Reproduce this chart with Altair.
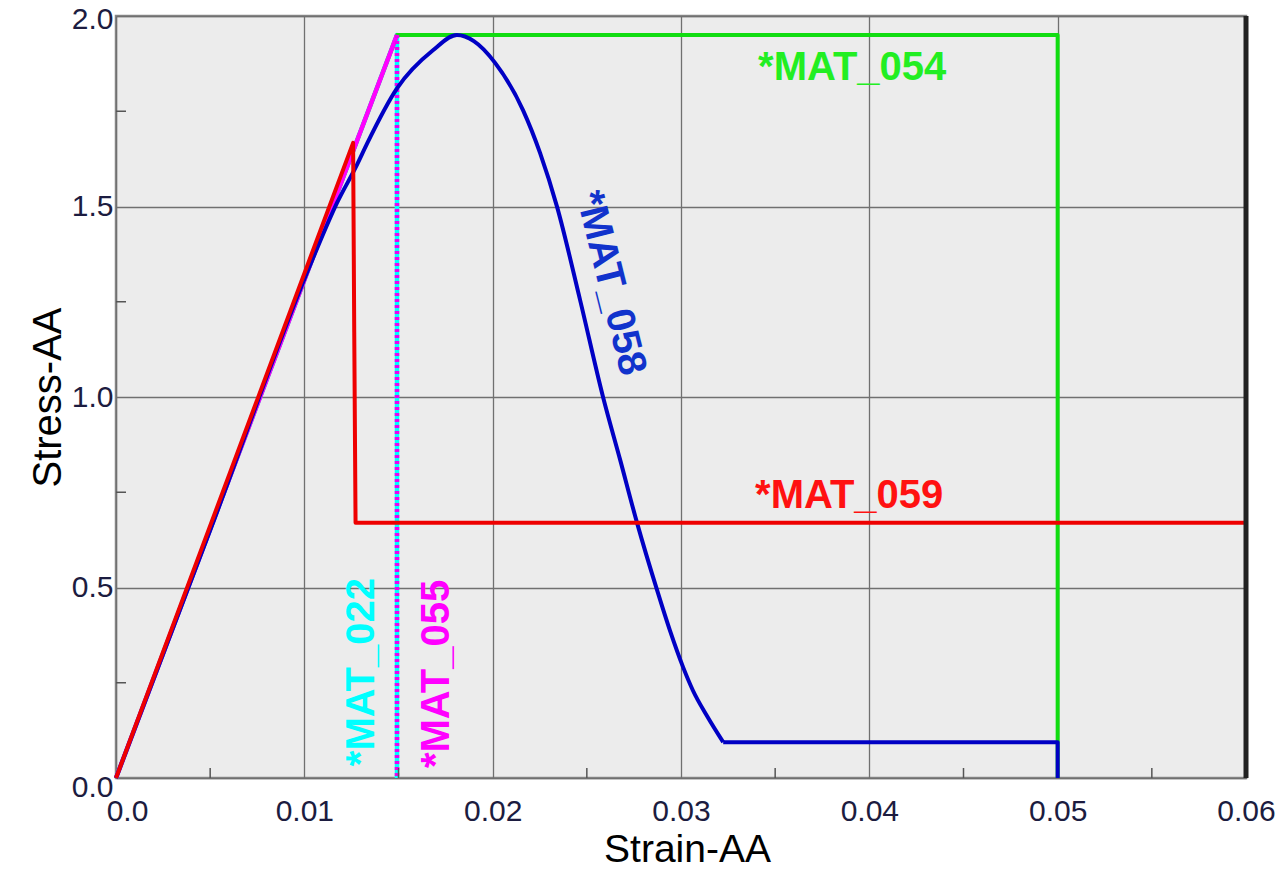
import altair as alt
import pandas as pd

# ---- data ----
mat022_strain = [0.0, 0.01492, 0.01492]
mat022_stress = [0.0, 1.95, 0.0]

mat055_strain = [0.0, 0.01492, 0.01492]
mat055_stress = [0.0, 1.95, 0.0]

mat054_strain = [0.0, 0.01492, 0.05, 0.05]
mat054_stress = [0.0, 1.95, 1.95, 0.0]

mat059_strain = [0.0, 0.01259, 0.01265, 0.01272, 0.06]
mat059_stress = [0.0, 1.667, 1.17, 0.67, 0.67]

# curved part of *MAT_058 (smooth), then its plateau and final drop
mat058_curve_strain = [0.0, 0.005, 0.0103, 0.01174, 0.0128, 0.01333, 0.01492, 0.01683,
                       0.0181, 0.0190, 0.02013, 0.02161, 0.02252, 0.02342, 0.02464,
                       0.02586, 0.02677, 0.02767, 0.02873, 0.02942, 0.03011, 0.03064,
                       0.03139, 0.03224]
mat058_curve_stress = [0.0, 0.65, 1.345, 1.51, 1.61, 1.665, 1.81, 1.91,
                       1.95, 1.934, 1.877, 1.753, 1.64, 1.499, 1.255,
                       1.0, 0.835, 0.669, 0.493, 0.386, 0.291, 0.229,
                       0.162, 0.094]
mat058_tail_strain = [0.03224, 0.05, 0.05]
mat058_tail_stress = [0.094, 0.094, 0.0]

x_ticks = [0.0, 0.01, 0.02, 0.03, 0.04, 0.05, 0.06]
y_ticks = [0.0, 0.5, 1.0, 1.5, 2.0]
x_minor = [0.005, 0.015, 0.025, 0.035, 0.045, 0.055]
y_minor = [0.25, 0.75, 1.25, 1.75]

label_text = ["*MAT_054", "*MAT_059", "*MAT_058", "*MAT_022", "*MAT_055"]
label_strain = [0.03909, 0.03893, 0.02625, 0.01306, 0.01705]
label_stress = [1.832, 0.709, 1.299, 0.278, 0.273]

W, H = 1130, 762
FONT = "Liberation Sans"

xscale = alt.Scale(domain=[0, 0.06], nice=False, zero=False)
yscale = alt.Scale(domain=[0, 2.0], nice=False, zero=False)

x_axis = alt.Axis(
    values=x_ticks, labelExpr="datum.value == 0 ? '0.0' : format(datum.value, '.2f')",
    grid=True, gridColor="#707070", gridWidth=1.3,
    ticks=False, tickSize=0, domain=False, labelFlush=False,
    labelFont=FONT, labelFontSize=30, labelColor="#1c1c40", labelPadding=18,
    labelOffset={"condition": {"test": "datum.value == 0", "value": 11}, "value": 0},
    title="Strain-AA", titleFont=FONT, titleFontSize=39, titleFontWeight="normal",
    titleColor="#000000", titleBaseline="alphabetic", titleY=83, titleX=571,
)
y_axis = alt.Axis(
    values=y_ticks, labelExpr="format(datum.value, '.1f')",
    grid=True, gridColor="#707070", gridWidth=1.3,
    ticks=False, tickSize=0, domain=False, labelFlush=False,
    labelFont=FONT, labelFontSize=30, labelColor="#1c1c40", labelPadding=3,
    labelOffset={"condition": [{"test": "datum.value == 0", "value": 9},
                               {"test": "datum.value == 2", "value": 3}], "value": 0},
    title="Stress-AA", titleFont=FONT, titleFontSize=40, titleFontWeight="normal",
    titleColor="#000000", titleBaseline="alphabetic", titleAngle=270, titleX=-56,
)


def X(field):
    return alt.X(field, scale=xscale, axis=x_axis)


def Y(field):
    return alt.Y(field, scale=yscale, axis=y_axis)


def frame(xs, ys):
    return pd.DataFrame({"strain": xs, "stress": ys, "idx": list(range(len(xs)))})


def line(xs, ys, color, width, dash=None, interp="linear"):
    kw = dict(color=color, strokeWidth=width, strokeJoin="round", strokeCap="butt",
              interpolate=interp)
    if dash:
        kw["strokeDash"] = dash
    return alt.Chart(frame(xs, ys)).mark_line(**kw).encode(
        x=X("strain:Q"), y=Y("stress:Q"), order="idx:Q"
    )


cyan = line(mat022_strain, mat022_stress, "#00ffff", 4.5)
green = line(mat054_strain, mat054_stress, "#11dd11", 4)
mag_rise = line(mat055_strain[:2], mat055_stress[:2], "#ff00ff", 4.5)
mag_drop = line(mat055_strain[1:], mat055_stress[1:], "#ee00ee", 4.5, dash=[3, 3])
blue_curve = line(mat058_curve_strain, mat058_curve_stress, "#0000c4", 4, interp="monotone")
blue_tail = line(mat058_tail_strain, mat058_tail_stress, "#0000c4", 4)
red = line(mat059_strain, mat059_stress, "#ee0000", 4)

xminor = alt.Chart(pd.DataFrame({"strain": x_minor})).mark_rule(color="#555555", strokeWidth=1.5).encode(
    x=X("strain:Q"), y=alt.value(H), y2=alt.value(H - 10)
)
yminor = alt.Chart(pd.DataFrame({"stress": y_minor})).mark_rule(color="#555555", strokeWidth=1.5).encode(
    y=Y("stress:Q"), x=alt.value(0), x2=alt.value(10)
)
right_border = alt.Chart(pd.DataFrame({"strain": [0.06]})).mark_rule(color="#222222", strokeWidth=5).encode(
    x=X("strain:Q"), y=alt.value(0), y2=alt.value(H)
)

lab_df = pd.DataFrame({"t": label_text, "strain": label_strain, "stress": label_stress})


def label(i, color, angle, baseline):
    return alt.Chart(lab_df.iloc[[i]]).mark_text(
        font=FONT, fontSize=40, fontWeight="bold", color=color,
        angle=angle, align="center", baseline=baseline,
    ).encode(x=X("strain:Q"), y=Y("stress:Q"), text="t:N")


labels = [
    label(0, "#22ee22", 0, "alphabetic"),
    label(1, "#ff1111", 0, "alphabetic"),
    label(2, "#1133cc", 76, "middle"),
    label(3, "#00ffff", 270, "middle"),
    label(4, "#ff00ff", 270, "middle"),
]

chart = alt.layer(
    cyan, green, mag_rise, mag_drop, blue_curve, blue_tail, red,
    xminor, yminor, right_border, *labels
).properties(
    width=W, height=H,
    autosize=alt.AutoSizeParams(type="none"),
    padding={"left": 108, "top": 8, "right": 34, "bottom": 86},
    background="#ffffff",
).configure_view(
    fill="#ececec", stroke="#8a8a8a", strokeWidth=2.5
)

chart.save("out.html", embed_options={"renderer": "svg", "actions": False})
